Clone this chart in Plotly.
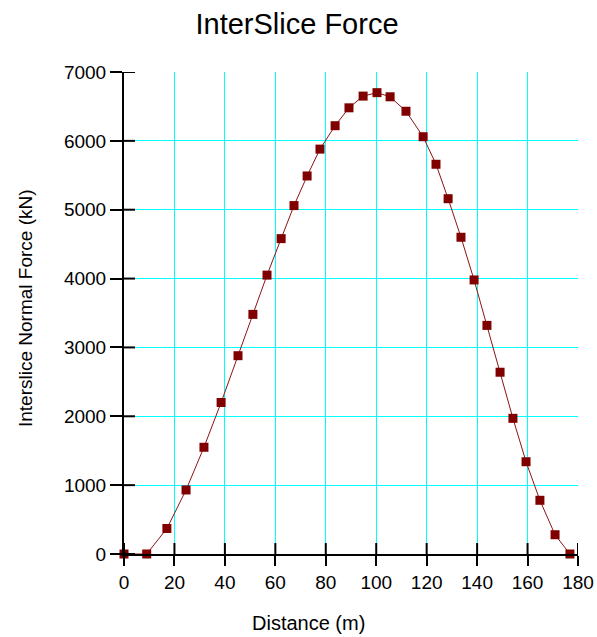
import plotly.graph_objects as go

distance_m = [0, 9, 17, 24.6, 31.7, 38.5, 45.2, 51.1, 56.7, 62.3, 67.4, 72.6, 77.7,
              83.7, 89.2, 94.8, 100.3, 105.5, 111.8, 118.6, 123.7, 128.5, 133.6,
              138.8, 143.9, 149.1, 154.2, 159.4, 164.9, 170.9, 176.8]
normal_force_kN = [0, 0, 370, 930, 1550, 2200, 2880, 3480, 4050, 4580, 5060, 5490, 5880,
                   6220, 6480, 6650, 6700, 6640, 6430, 6060, 5660, 5160, 4600,
                   3980, 3320, 2640, 1970, 1340, 780, 280, 0]
x_ticks = [0, 20, 40, 60, 80, 100, 120, 140, 160, 180]
y_ticks = [0, 1000, 2000, 3000, 4000, 5000, 6000, 7000]

FONT = "Liberation Sans, Arial, sans-serif"
GRID = "#00FFFF"
W, H = 597, 637

fig = go.Figure()
fig.add_trace(go.Scatter(
    x=distance_m, y=normal_force_kN, mode="lines+markers",
    line=dict(color="#8B1414", width=1),
    marker=dict(symbol="square", size=9, color="#800000"),
    cliponaxis=False, showlegend=False,
))

# inner halves of the crossing tick marks (outer halves are the axis ticks)
shapes = []
for v in x_ticks:
    shapes.append(dict(type="line", xref="x", yref="y", x0=v, x1=v,
                       ysizemode="pixel", yanchor=0, y0=0, y1=11,
                       line=dict(color="black", width=2)))
for v in y_ticks:
    shapes.append(dict(type="line", xref="x", yref="y", y0=v, y1=v,
                       xsizemode="pixel", xanchor=0, x0=0, x1=11,
                       line=dict(color="black", width=2)))

fig.update_layout(
    width=W, height=H,
    margin=dict(l=124, r=19, t=72, b=83),
    paper_bgcolor="white", plot_bgcolor="white",
    font=dict(family=FONT, color="black", size=19),
    title=dict(text="InterSlice Force", x=297 / W, xanchor="center", xref="container",
               y=1 - 24 / H, yanchor="middle", yref="container",
               font=dict(size=29, family=FONT, color="black")),
    xaxis=dict(
        range=[0, 180], tickvals=x_ticks, ticktext=[str(v) for v in x_ticks],
        showline=True, linecolor="black", linewidth=2,
        ticks="outside", ticklen=10, tickwidth=2, tickcolor="black",
        showgrid=True, gridcolor=GRID, gridwidth=1, zeroline=False,
        tickfont=dict(size=19), automargin=False,
    ),
    yaxis=dict(
        range=[0, 7000], tickvals=y_ticks, ticktext=[str(v) for v in y_ticks],
        showline=True, linecolor="black", linewidth=2,
        ticks="outside", ticklen=12, tickwidth=2, tickcolor="black",
        showgrid=True, gridcolor=GRID, gridwidth=1, zeroline=False,
        tickfont=dict(size=19), automargin=False,
    ),
    shapes=shapes,
    annotations=[
        dict(text="Distance (m)", xref="paper", yref="paper",
             x=(308 - 124) / 454, y=-(623 - 554) / 482,
             xanchor="center", yanchor="middle", showarrow=False,
             font=dict(size=20, family=FONT, color="black")),
        dict(text="Interslice Normal Force (kN)", xref="paper", yref="paper",
             x=-(124 - 25) / 454, y=(554 - 308) / 482, textangle=-90,
             xanchor="center", yanchor="middle", showarrow=False,
             font=dict(size=19, family=FONT, color="black")),
    ],
)

fig.write_html(
    "out.html",
    config={"displayModeBar": False},
    post_script="document.body.style.margin='0';document.body.style.overflow='hidden';",
)
